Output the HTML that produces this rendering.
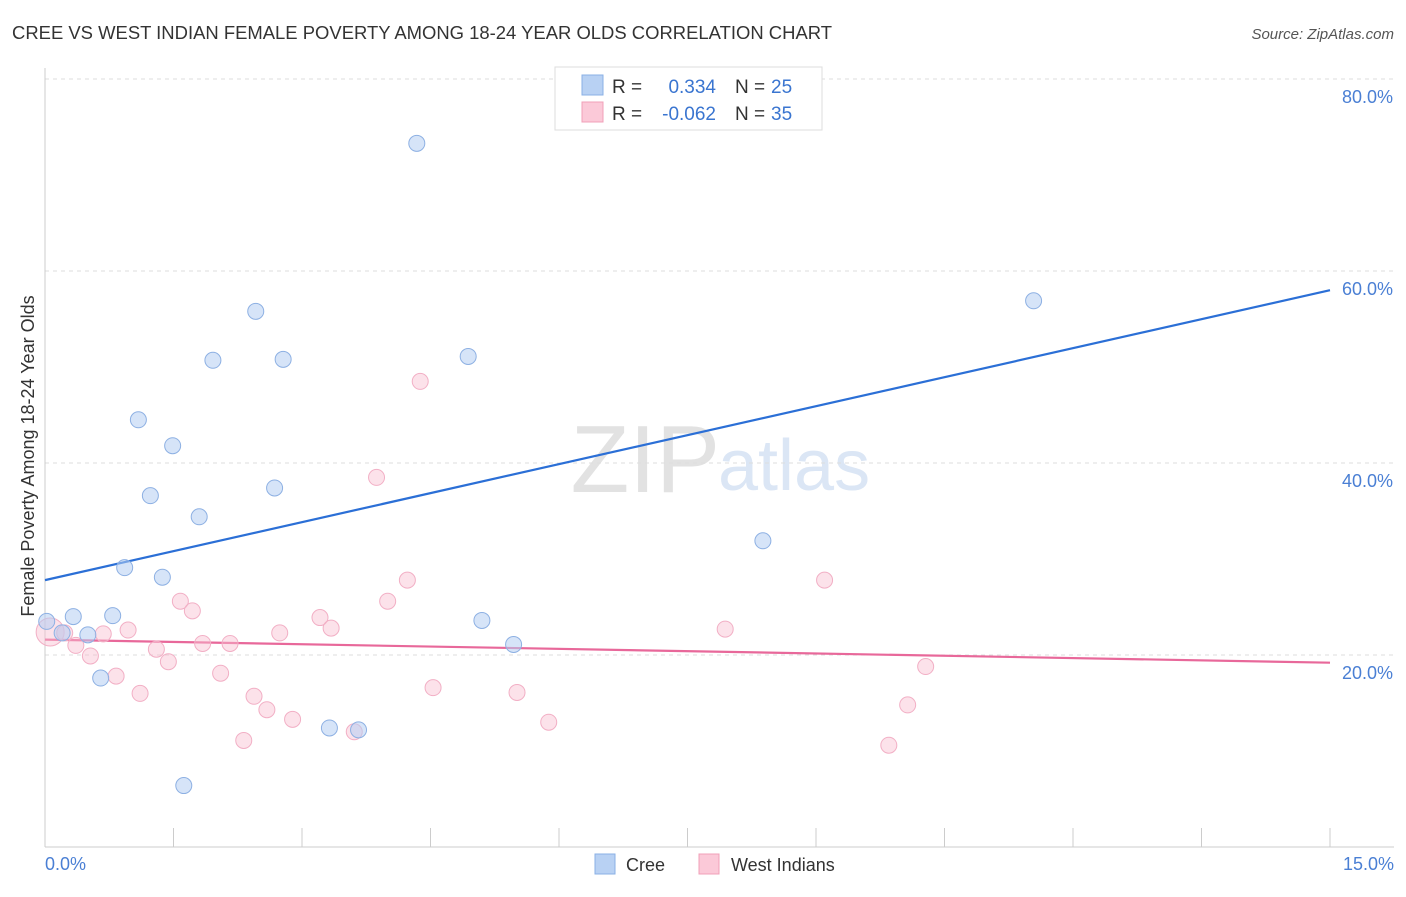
<!DOCTYPE html>
<html><head><meta charset="utf-8"><style>
body{margin:0;background:#fff;font-family:"Liberation Sans",sans-serif;}
svg text{font-family:"Liberation Sans",sans-serif;}
</style></head><body>
<svg id="chart" width="1406" height="892">
<text x="12" y="39" font-size="18" fill="#333" textLength="820" lengthAdjust="spacingAndGlyphs">CREE VS WEST INDIAN FEMALE POVERTY AMONG 18-24 YEAR OLDS CORRELATION CHART</text>
<text x="1394" y="39" font-size="15" fill="#555" font-style="italic" text-anchor="end">Source: ZipAtlas.com</text>
<text x="720" y="492" font-size="96" fill="#e2e2e2" text-anchor="end" font-family="Liberation Serif">ZIP</text>
<text x="718" y="490" font-size="72" fill="#dbe6f5">atlas</text>
<g id="grid"></g><g id="axes"></g><g id="lines"></g><g id="pts"></g>
<text transform="translate(34,456) rotate(-90)" font-size="18" fill="#333" text-anchor="middle">Female Poverty Among 18-24 Year Olds</text>
<text x="45" y="870" font-size="18" fill="#4a7fd4">0.0%</text>
<text x="1394" y="870" font-size="18" fill="#4a7fd4" text-anchor="end">15.0%</text>
<g>
<rect x="555" y="67" width="267" height="63" fill="#fff" stroke="#ddd"/>
<rect x="582" y="75" width="21" height="20" fill="#b8d1f3" stroke="#8ab0e6"/>
<rect x="582" y="102" width="21" height="20" fill="#fbc9d8" stroke="#f0a0b8"/>
<text x="612" y="93" font-size="19" fill="#333">R =</text>
<text x="716" y="93" font-size="19" fill="#3a75d0" text-anchor="end">0.334</text>
<text x="735" y="93" font-size="19" fill="#333">N =</text>
<text x="771" y="93" font-size="19" fill="#3a75d0">25</text>
<text x="612" y="120" font-size="19" fill="#333">R =</text>
<text x="716" y="120" font-size="19" fill="#3a75d0" text-anchor="end">-0.062</text>
<text x="735" y="120" font-size="19" fill="#333">N =</text>
<text x="771" y="120" font-size="19" fill="#3a75d0">35</text>
</g>
<g>
<rect x="595" y="854" width="20" height="20" fill="#b8d1f3" stroke="#8ab0e6"/>
<text x="626" y="871" font-size="18" fill="#333">Cree</text>
<rect x="699" y="854" width="20" height="20" fill="#fbc9d8" stroke="#f0a0b8"/>
<text x="731" y="871" font-size="18" fill="#333">West Indians</text>
</g>
</svg>
<script>
const creeX=[0.02,0.2,0.33,0.5,0.65,0.79,0.93,1.09,1.23,1.37,1.49,1.62,1.80,1.96,2.46,2.68,2.78,3.32,3.66,4.34,4.94,5.10,5.47,8.38,11.54];
const creeY=[23.5,22.3,24.0,22.1,17.6,24.1,29.1,44.5,36.6,28.1,41.8,6.4,34.4,50.7,55.8,37.4,50.8,12.4,12.2,73.3,51.1,23.6,21.1,31.9,56.9];
const wiX=[0.06,0.23,0.36,0.53,0.68,0.83,0.97,1.11,1.30,1.44,1.58,1.72,1.84,2.05,2.16,2.32,2.44,2.59,2.74,2.89,3.21,3.34,3.61,3.87,4.00,4.23,4.38,4.53,5.51,5.88,7.94,9.10,9.85,10.07,10.28];
const wiY=[22.4,22.3,21.0,19.9,22.2,17.8,22.6,16.0,20.6,19.3,25.6,24.6,21.2,18.1,21.2,11.1,15.7,14.3,22.3,13.3,23.9,22.8,12.0,38.5,25.6,27.8,48.5,16.6,16.1,13.0,22.7,27.8,10.6,14.8,18.8];
const trendCree=[27.8,58.0];
const trendWI=[21.6,19.2];
const yTicks=[20,40,60,80];
const xTicks=[0,1.5,3,4.5,6,7.5,9,10.5,12,13.5,15];
const NS="http://www.w3.org/2000/svg";
const X=v=>45+v*85.667, Y=v=>847-v*9.6;
function mk(t,a,p){const e=document.createElementNS(NS,t);for(const k in a)e.setAttribute(k,a[k]);document.getElementById(p).appendChild(e);return e;}
yTicks.forEach(t=>{
 const l=mk('line',{x1:45,x2:1394,y1:Y(t),y2:Y(t),stroke:'#ddd','stroke-dasharray':'4,4'},'grid');
 
 
 const tx=mk('text',{x:1393,y:Y(t)+24,'font-size':18,fill:'#4a7fd4','text-anchor':'end'},'grid');
 tx.textContent=t.toFixed(1)+'%';
 
 
});
const ax=mk('line',{x1:45,x2:45,y1:68,y2:847,stroke:'#ccc'},'axes');


const bx=mk('line',{x1:45,x2:1394,y1:847,y2:847,stroke:'#ccc'},'axes');


xTicks.forEach(t=>{
 const l=mk('line',{x1:X(t),x2:X(t),y1:828,y2:847,stroke:'#ccc'},'axes');
 
 
});
const lc=mk('line',{x1:X(0),x2:X(15),y1:Y(trendCree[0]),y2:Y(trendCree[1]),stroke:'#2b6fd6','stroke-width':2.2},'lines');


const lw=mk('line',{x1:X(0),x2:X(15),y1:Y(trendWI[0]),y2:Y(trendWI[1]),stroke:'#e8689a','stroke-width':2.2},'lines');


wiX.forEach((v,i)=>{
 const c=mk('circle',{cx:X(v),cy:Y(wiY[i]),r:i==0?14:8,fill:'rgba(248,190,208,0.45)',stroke:'#f2afc5','stroke-width':1},'pts');
 
 
});
creeX.forEach((v,i)=>{
 const c=mk('circle',{cx:X(v),cy:Y(creeY[i]),r:8,fill:'rgba(180,206,243,0.55)',stroke:'#8db0e3','stroke-width':1},'pts');
 
 
});
</script>
</body></html>
